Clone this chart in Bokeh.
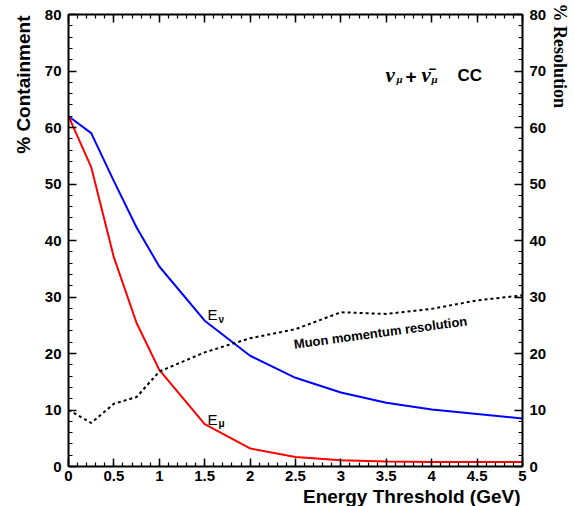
import numpy as np
from bokeh.plotting import figure
from bokeh.models import LinearAxis, FixedTicker, Range1d, Label, Title
from bokeh.embed import file_html
from bokeh.resources import INLINE

# ---- data ----
threshold = [0, 0.25, 0.5, 0.75, 1.0, 1.5, 2.0, 2.5, 3.0, 3.5, 4.0, 4.5, 5.0]
e_nu = [62.0, 59.0, 50.5, 42.3, 35.4, 25.8, 19.6, 15.7, 13.1, 11.3, 10.1, 9.3, 8.5]
e_mu = [62.0, 53.0, 37.0, 25.4, 17.1, 7.5, 3.2, 1.7, 1.1, 0.9, 0.8, 0.8, 0.8]
muon_res = [10.0, 7.7, 11.1, 12.3, 16.8, 20.2, 22.7, 24.3, 27.3, 27.0, 27.9, 29.4, 30.3]

x_ticks = [0, 0.5, 1, 1.5, 2, 2.5, 3, 3.5, 4, 4.5, 5]
x_tick_labels = ["0", "0.5", "1", "1.5", "2", "2.5", "3", "3.5", "4", "4.5", "5"]
y_ticks = [0, 10, 20, 30, 40, 50, 60, 70, 80]
y_tick_labels = ["0", "10", "20", "30", "40", "50", "60", "70", "80"]

SANS = "Liberation Sans"
SERIF = "Liberation Serif"

p = figure(width=574, height=506, output_backend="svg", toolbar_location=None,
           x_range=Range1d(0, 5), y_range=Range1d(0, 80),
           min_border_left=68, min_border_right=52, min_border_top=14, min_border_bottom=39,
           x_axis_location=None, y_axis_location=None)
p.xgrid.visible = False
p.ygrid.visible = False
p.outline_line_color = None
p.background_fill_color = "white"
p.border_fill_color = "white"

x_minor = [round(v, 2) for v in np.arange(0, 5.01, 0.1)]
y_minor = list(range(0, 81, 2))


def style(ax):
    ax.axis_line_width = 2
    ax.axis_line_color = "black"
    ax.major_tick_in = 8
    ax.major_tick_out = 0
    ax.minor_tick_in = 4
    ax.minor_tick_out = 0
    ax.major_tick_line_width = 1.5
    ax.minor_tick_line_width = 1.2
    ax.major_tick_line_color = "black"
    ax.minor_tick_line_color = "black"
    ax.major_label_text_font = SANS
    ax.major_label_text_font_style = "bold"
    ax.major_label_text_font_size = "15px"
    ax.major_label_text_color = "black"
    ax.major_label_standoff = 7


bottom = LinearAxis(ticker=FixedTicker(ticks=x_ticks, minor_ticks=x_minor),
                    major_label_overrides={t: l for t, l in zip(x_ticks, x_tick_labels)})
top = LinearAxis(ticker=FixedTicker(ticks=x_ticks, minor_ticks=x_minor),
                 major_label_overrides={t: "" for t in x_ticks})
left = LinearAxis(ticker=FixedTicker(ticks=y_ticks, minor_ticks=y_minor),
                  major_label_overrides={t: l for t, l in zip(y_ticks, y_tick_labels)})
right = LinearAxis(ticker=FixedTicker(ticks=y_ticks, minor_ticks=y_minor),
                   major_label_overrides={t: l for t, l in zip(y_ticks, y_tick_labels)})
for ax in (bottom, top, left, right):
    style(ax)
bottom.major_label_standoff = 4
top.major_label_standoff = 0

p.add_layout(bottom, "below")
p.add_layout(top, "above")
p.add_layout(left, "left")
p.add_layout(right, "right")

# axis titles
p.add_layout(Title(text="% Containment", text_font=SANS, text_font_style="bold",
                   text_font_size="19px", text_color="black", align="right",
                   offset=1, standoff=16), "left")
p.add_layout(Title(text="% Resolution", text_font=SERIF, text_font_style="bold",
                   text_font_size="18px", text_color="black", align="left",
                   offset=-11, standoff=0), "right")
p.add_layout(Title(text="Energy Threshold (GeV)", text_font=SANS, text_font_style="bold",
                   text_font_size="19px", text_color="black", align="right",
                   offset=2, standoff=0), "below")

p.line(threshold, e_nu, line_color="#0000ff", line_width=2)
p.line(threshold, e_mu, line_color="#ff0000", line_width=2)
p.line(threshold, muon_res, line_color="black", line_width=2, line_dash="3 3")


def lab(x, y, text, font=SANS, size="14px", style="normal", align="left",
        baseline="alphabetic", angle=0.0):
    p.add_layout(Label(x=x, y=y, text=text, text_font=font, text_font_size=size,
                       text_font_style=style, text_align=align, text_baseline=baseline,
                       angle=angle, text_color="black"))


# curve labels
lab(1.531, 26.86, "E", size="15px")
lab(1.652, 26.1, "ν", size="10px", style="bold")
lab(1.531, 8.3, "E", size="15px")
lab(1.652, 7.6, "μ", size="10px", style="bold")
lab(3.436, 23.7, "Muon momentum resolution", size="13px", style="bold",
    align="center", baseline="middle", angle=0.134)

# reaction label
lab(3.491, 69.26, "ν", font=SERIF, size="21px", style="bold italic")
lab(3.612, 68.6, "μ", font=SERIF, size="11px", style="bold italic")
lab(3.711, 69.1, "+", size="19px", style="bold")
lab(3.888, 69.26, "ν̄", font=SERIF, size="21px", style="bold italic")
lab(3.998, 68.6, "μ", font=SERIF, size="11px", style="bold italic")
lab(4.284, 69.26, "CC", size="17px", style="bold")

open("out.html", "w").write(file_html(p, INLINE))
